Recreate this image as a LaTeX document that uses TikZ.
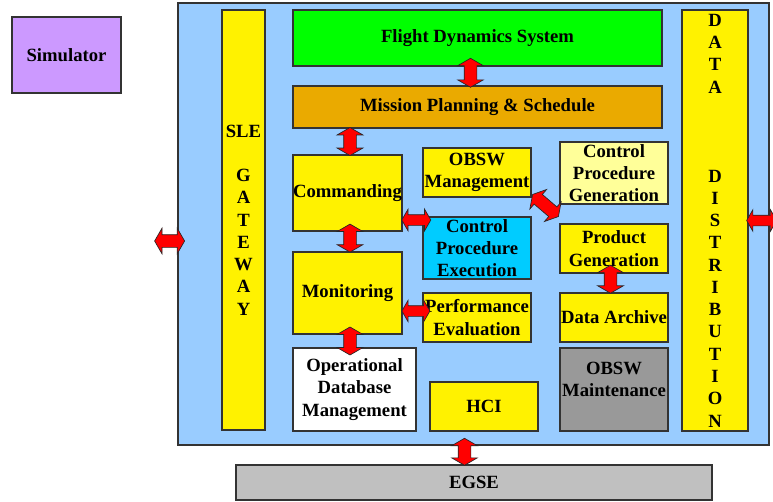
\documentclass[tikz,border=0pt]{standalone}
\usepackage{fontspec}
\setmainfont{Liberation Serif}
\usetikzlibrary{shapes.arrows}

\definecolor{simcolor}{HTML}{CC99FF}
\definecolor{gscolor}{HTML}{99CCFF}
\definecolor{fdscolor}{HTML}{00FF00}
\definecolor{mpscolor}{HTML}{EAAA00}
\definecolor{cpecolor}{HTML}{00CCFF}
\definecolor{cpgcolor}{HTML}{FFFF99}
\definecolor{obmtcolor}{HTML}{999999}
\definecolor{egsecolor}{HTML}{C0C0C0}

\begin{document}
\begin{tikzpicture}[x=0.75pt,y=-0.75pt,
    caja/.style={draw=black!80, line width=0.8pt, fill=yellow, align=center, inner sep=0pt,
      font=\bfseries\fontsize{14}{16.7}\selectfont},
    flecha/.style={double arrow, draw=black!85, line width=0.5pt, fill=red, inner xsep=0pt,
      double arrow tip angle=120, sloped},
    flechag/.style={flecha, inner ysep=4.5pt, double arrow head extend=4.9pt},
    flechap/.style={flecha, inner ysep=3.75pt, double arrow head extend=4.1pt}]
  % Area fija de la figura
  \useasboundingbox (0,0) rectangle (773,502);

  % Cajas exteriores
  \node[caja, fill=simcolor, minimum width=81.75pt, minimum height=57pt] (sim) at (66.5,55) {Simulator};
  \node[caja, fill=gscolor, minimum width=443.25pt, minimum height=331.5pt] (gs) at (473.5,224) {};
  \node[caja, fill=egsecolor, minimum width=357pt, minimum height=26.25pt] (egse) at (474,482.5) {EGSE};

  % Columnas laterales
  \node[caja, minimum width=32.25pt, minimum height=315pt] (sle) at (243.5,220)
    {SLE\\[16.7pt]G\\A\\T\\E\\W\\A\\Y};
  \node[caja, minimum width=49.5pt, minimum height=315.75pt] (dd) at (715,220.5)
    {D\\A\\T\\A\\[50.1pt]D\\I\\S\\T\\R\\I\\B\\U\\T\\I\\O\\N};

  % Cajas interiores
  \node[caja, fill=fdscolor, minimum width=276.75pt, minimum height=42pt] (fds) at (477.5,38) {Flight Dynamics System};
  \node[caja, fill=mpscolor, minimum width=276.75pt, minimum height=31.5pt] (mps) at (477.5,107) {Mission Planning \& Schedule};
  \node[caja, minimum width=81.75pt, minimum height=57pt] (cmd) at (347.5,193) {Commanding};
  \node[caja, minimum width=81.75pt, minimum height=61.5pt] (mon) at (347.5,293) {Monitoring};
  \node[caja, fill=white, minimum width=92.25pt, minimum height=62.25pt] (odb) at (354.5,389.5) {Operational\\Database\\Management};
  \node[caja, minimum width=81pt, minimum height=36.75pt] (obm) at (477,172.5) {OBSW\\Management};
  \node[caja, fill=cpecolor, minimum width=81pt, minimum height=46.5pt] (cpe) at (477,248) {Control\\Procedure\\Execution};
  \node[caja, minimum width=81pt, minimum height=36.75pt] (pev) at (477,317.5) {Performance\\Evaluation};
  \node[caja, minimum width=81pt, minimum height=36.75pt] (hci) at (484,406.5) {HCI};
  \node[caja, fill=cpgcolor, minimum width=81pt, minimum height=46.5pt] (cpg) at (614,173) {Control\\Procedure\\Generation};
  \node[caja, minimum width=81pt, minimum height=36.75pt] (pgn) at (614,248.5) {Product\\Generation};
  \node[caja, minimum width=81pt, minimum height=36.75pt] (dar) at (614,317.5) {Data Archive};
  \node[caja, fill=obmtcolor, minimum width=81pt, minimum height=62.25pt, text depth=15pt] (obmt) at (614,389.5) {OBSW\\Maintenance};

  % Flechas
  \coordinate (simin) at (155,241);
  \coordinate (ddout) at (777,220.5);
  \path (simin) -- node[flechag, minimum height=22.5pt, pos=0.65] (a1) {} (gs.west |- simin);
  \path (fds.south -| 470.5,0) -- node[flechag, minimum height=21.75pt, pos=0.33] (a2) {} (mps.north -| 470.5,0);
  \path (mps.south -| 350,0) -- node[flechag, minimum height=21pt] (a3) {} (cmd.north -| 350,0);
  \path (cmd.south -| 350,0) -- node[flechag, minimum height=21pt, pos=0.33] (a4) {} (mon.north -| 350,0);
  \path (mon.south -| 350,0) -- node[flechag, minimum height=21pt] (a5) {} (odb.north -| 350,0);
  \path (cmd.east |- 0,220) -- node[flechap, minimum height=21.75pt, pos=0.69] (a6) {} (cpe.west |- 0,220);
  \path (mon.east |- 0,311) -- node[flechap, minimum height=21pt, pos=0.67] (a7) {} (pev.west |- 0,311);
  \path ([yshift=3pt]obm.south east) -- node[flechag, minimum height=25.5pt] (a8) {} ([yshift=4.5pt]pgn.north west);
  \path (pgn.south -| 610.5,0) -- node[flechag, minimum height=21pt, pos=0.3] (a9) {} (dar.north -| 610.5,0);
  \path (gs.south -| 464.5,0) -- node[flechag, minimum height=20.25pt, pos=0.33] (a10) {} (egse.north -| 464.5,0);
  \path (dd.east) -- node[flechap, minimum height=22.5pt, pos=0.46] (a11) {} (ddout);
\end{tikzpicture}
\end{document}
